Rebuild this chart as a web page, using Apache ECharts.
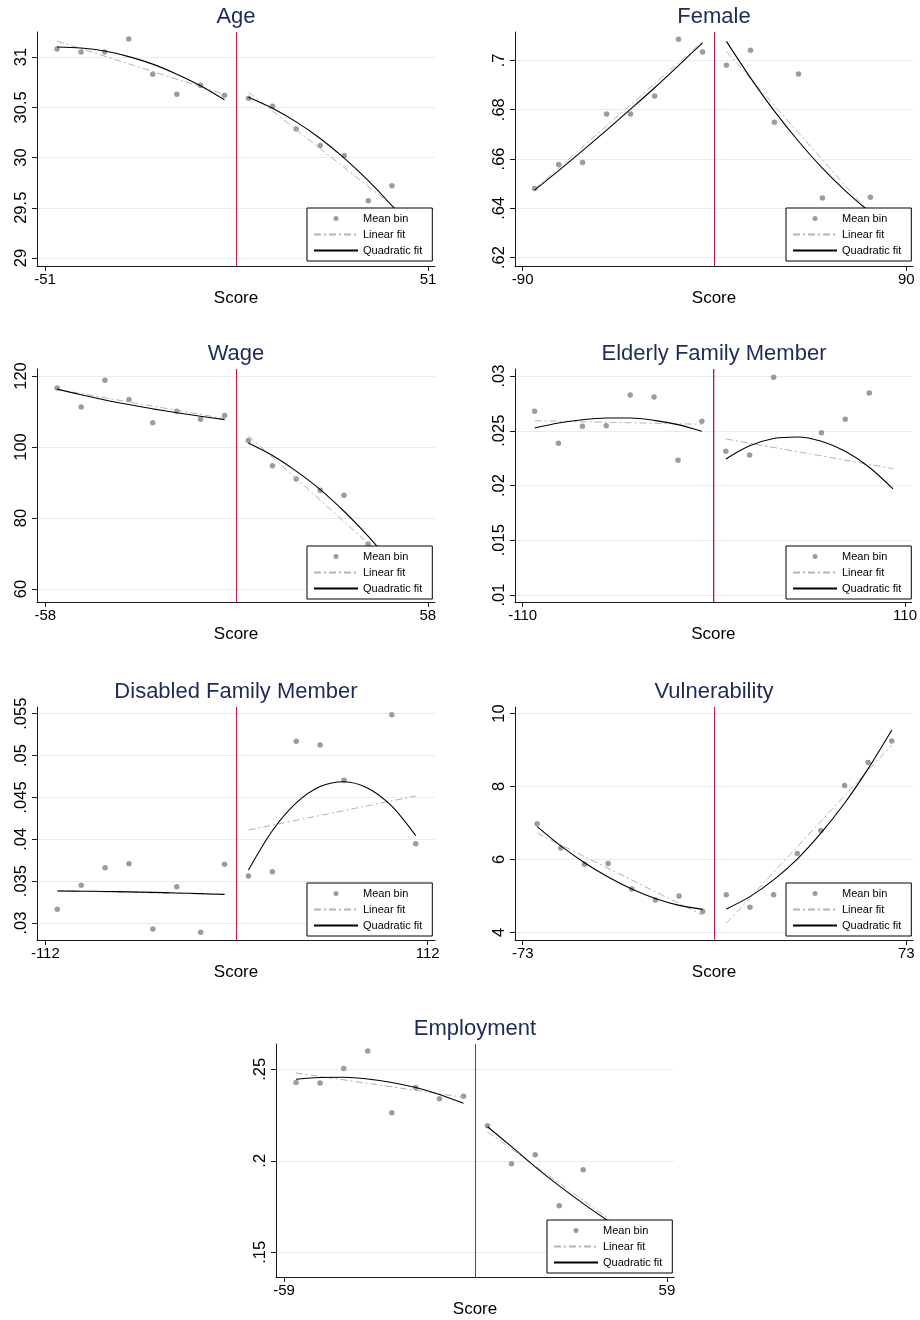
<!DOCTYPE html>
<html>
<head>
<meta charset="utf-8">
<script src="https://cdn.jsdelivr.net/npm/echarts@6/dist/echarts.min.js"></script>
<style>
html, body { margin: 0; padding: 0; background: #fff; }
#chart { width: 920px; height: 1320px; }
</style>
</head>
<body>
<div id="chart"></div>
<script>
// --- data: 8 bins each side of the cutoff (score = 0) ---
// null = bin hidden behind the legend box

// Age
var ageBins = [-47.8, -41.4, -35.1, -28.7, -22.3, -15.9, -9.6, -3.2, 3.2, 9.6, 15.9, 22.3, 28.7, 35.1, 41.4, 47.8];
var ageMean = [31.08, 31.05, 31.05, 31.18, 30.83, 30.63, 30.72, 30.62, 30.59, 30.51, 30.285, 30.12, 30.02, 29.57, 29.72, null];
var ageQuad = [31.10, 31.09, 31.06, 31.005, 30.93, 30.83, 30.715, 30.575, 30.60, 30.49, 30.355, 30.19, 29.995, 29.77, 29.52, 29.24];
var ageLin = [31.16, 30.63, 30.65, 29.34];

// Female
var femBins = [-84.4, -73.1, -61.9, -50.6, -39.4, -28.1, -16.9, -5.6, 5.6, 16.9, 28.1, 39.4, 50.6, 61.9, 73.1, 84.4];
var femMean = [0.648, 0.6578, 0.6586, 0.6782, 0.6782, 0.6855, 0.7086, 0.7034, 0.698, 0.7041, 0.6749, 0.6945, 0.6442, null, 0.6445, null];
var femQuad = [0.6474, 0.6553, 0.6634, 0.6717, 0.6802, 0.6889, 0.6979, 0.7071, 0.7077, 0.6929, 0.6794, 0.6672, 0.6563, 0.6467, 0.6384, 0.6313];
var femLin = [0.6478, 0.7076, 0.7036, 0.6267];

// Wage
var wageBins = [-54.4, -47.1, -39.9, -32.6, -25.4, -18.1, -10.9, -3.6, 3.6, 10.9, 18.1, 25.4, 32.6, 39.9, 47.1, 54.4];
var wageMean = [116.6, 111.3, 118.8, 113.4, 106.8, 110.1, 107.8, 108.9, 101.8, 94.7, 91.0, 87.8, 86.4, 72.7, null, null];
var wageQuad = [116.3, 114.7, 113.25, 111.95, 110.75, 109.65, 108.65, 107.7, 101.1, 97.6, 93.2, 88.0, 81.9, 74.9, 67.1, 58.4];
var wageLin = [116.2, 108.0, 103.2, 60.8];

// Elderly family member
var eldBins = [-103.1, -89.4, -75.6, -61.9, -48.1, -34.4, -20.6, -6.9, 6.9, 20.6, 34.4, 48.1, 61.9, 75.6, 89.4, 103.1];
var eldMean = [0.02677, 0.02385, 0.0254, 0.02546, 0.02826, 0.02808, 0.0223, 0.02586, 0.02312, 0.02279, 0.02988, null, 0.02482, 0.02604, 0.02845, null];
var eldQuad = [0.02525, 0.02571, 0.02601, 0.02616, 0.02616, 0.02595, 0.02556, 0.02495, 0.02242, 0.02362, 0.02429, 0.02443, 0.02404, 0.02312, 0.02167, 0.01969];
var eldLin = [0.02592, 0.02559, 0.02425, 0.02154];

// Disabled family member
var disBins = [-105, -91, -77, -63, -49, -35, -21, -7, 7, 21, 35, 49, 63, 77, 91, 105];
var disMean = [0.03163, 0.0345, 0.03661, 0.03709, 0.02928, 0.03434, 0.02889, 0.03701, 0.03561, 0.03613, 0.0517, 0.05126, 0.04704, null, 0.05488, 0.03947];
var disQuad = [0.03382, 0.0338, 0.03377, 0.03372, 0.03366, 0.03359, 0.03351, 0.03342, 0.03633, 0.04102, 0.04434, 0.04629, 0.04688, 0.0461, 0.04395, 0.04043];
var disLin = [0.03385, 0.0334, 0.04111, 0.04517];

// Vulnerability
var vulBins = [-67.5, -58.5, -49.5, -40.5, -31.5, -22.5, -13.5, -4.5, 4.5, 13.5, 22.5, 31.5, 40.5, 49.5, 58.5, 67.5];
var vulMean = [6.98, 6.31, 5.87, 5.89, 5.19, 4.89, 5.0, 4.57, 5.03, 4.69, 5.03, 6.16, 6.79, 8.03, 8.66, 9.25];
var vulQuad = [6.9, 6.37, 5.91, 5.52, 5.19, 4.93, 4.74, 4.63, 4.64, 4.98, 5.44, 6.01, 6.72, 7.54, 8.49, 9.55];
var vulLin = [6.72, 4.47, 4.25, 9.14];

// Employment
var empBins = [-55.3, -47.9, -40.6, -33.2, -25.8, -18.4, -11.1, -3.7, 3.7, 11.1, 18.4, 25.8, 33.2, 40.6, 47.9, 55.3];
var empMean = [0.2427, 0.2425, 0.2504, 0.26, 0.2263, 0.2401, 0.2339, 0.2352, 0.2192, 0.1984, 0.2033, 0.1754, 0.1951, null, null, null];
var empQuad = [0.2445, 0.2455, 0.2456, 0.2447, 0.2428, 0.24, 0.2362, 0.2314, 0.2186, 0.2077, 0.1967, 0.1863, 0.1766, 0.1675, 0.159, 0.1511];
var empLin = [0.248, 0.2347, 0.2159, 0.1502];

// axis ticks
var ageYTicks = [29, 29.5, 30, 30.5, 31];
var femYTicks = [0.62, 0.64, 0.66, 0.68, 0.7];
var wageYTicks = [60, 80, 100, 120];
var eldYTicks = [0.01, 0.015, 0.02, 0.025, 0.03];
var disYTicks = [0.03, 0.035, 0.04, 0.045, 0.05, 0.055];
var vulYTicks = [4, 6, 8, 10];
var empYTicks = [0.15, 0.2, 0.25];

var cutoff = 0;

var panels = [
    { title: 'Age', bins: ageBins, mean: ageMean, quad: ageQuad, lin: ageLin, xt: [-51, 51], yt: ageYTicks,
      xr: [-53.13, 52.87], yr: [28.92, 31.25], grid: [37, 32], leg: [307, 208], ttop: 6 },
    { title: 'Female', bins: femBins, mean: femMean, quad: femQuad, lin: femLin, xt: [-90, 90], yt: femYTicks,
      xr: [-93.585, 93.115], yr: [0.6166, 0.7115], grid: [515, 32], leg: [786, 208], ttop: 6 },
    { title: 'Wage', bins: wageBins, mean: wageMean, quad: wageQuad, lin: wageLin, xt: [-58, 58], yt: wageYTicks,
      xr: [-60.502, 60.198], yr: [56.34, 121.97], grid: [37, 369], leg: [307, 546], ttop: 343 },
    { title: 'Elderly Family Member', bins: eldBins, mean: eldMean, quad: eldQuad, lin: eldLin, xt: [-110, 110], yt: eldYTicks,
      xr: [-114.388, 113.812], yr: [0.00936, 0.03064], grid: [515, 369], leg: [786, 546], ttop: 343 },
    { title: 'Disabled Family Member', bins: disBins, mean: disMean, quad: disQuad, lin: disLin, xt: [-112, 112], yt: disYTicks,
      xr: [-116.894, 116.306], yr: [0.02797, 0.0558], grid: [37, 707], leg: [307, 883], ttop: 681 },
    { title: 'Vulnerability', bins: vulBins, mean: vulMean, quad: vulQuad, lin: vulLin, xt: [-73, 73], yt: vulYTicks,
      xr: [-75.941, 75.559], yr: [3.79, 10.18], grid: [515, 707], leg: [786, 883], ttop: 681 },
    { title: 'Employment', bins: empBins, mean: empMean, quad: empQuad, lin: empLin, xt: [-59, 59], yt: empYTicks,
      xr: [-61.48, 61.17], yr: [0.1365, 0.2638], grid: [276, 1044], leg: [547, 1220], ttop: 1018 }
];

var FONT = '"Liberation Sans", Arial, Helvetica, sans-serif';
var axisColor = '#1a1a1a';
var cutoffColor = '#c8163f';

function stataNum(v) {
    // Stata drops the leading zero: 0.025 -> .025
    return String(v).replace(/^0\./, '.').replace(/^-0\./, '-.');
}

var option = {
    animation: false,
    backgroundColor: '#fff',
    textStyle: { fontFamily: FONT },
    title: [], grid: [], xAxis: [], yAxis: [], legend: [], series: []
};

panels.forEach(function (p, i) {
    var gw = 398;
    option.grid.push({ left: p.grid[0], top: p.grid[1], width: gw, height: i < 2 ? 234 : 233 });
    option.title.push({
        text: p.title, left: p.grid[0] + gw / 2, top: p.ttop, textAlign: 'center', padding: 0,
        textStyle: { fontSize: 22, fontWeight: 'normal', color: '#1c2b5a', fontFamily: FONT }
    });
    option.xAxis.push({
        gridIndex: i, type: 'value', min: p.xr[0], max: p.xr[1],
        name: 'Score', nameLocation: 'middle', nameGap: 24,
        nameTextStyle: { fontSize: 17, color: '#000', fontFamily: FONT },
        axisLine: { show: true, onZero: false, lineStyle: { color: axisColor, width: 1 } },
        axisTick: { show: true, length: 5, customValues: p.xt, lineStyle: { color: axisColor } },
        axisLabel: { customValues: p.xt, fontSize: 15, color: '#000', margin: 6, fontFamily: FONT },
        splitLine: { show: false }
    });
    option.yAxis.push({
        gridIndex: i, type: 'value', min: p.yr[0], max: p.yr[1],
        axisLine: { show: true, onZero: false, lineStyle: { color: axisColor, width: 1 } },
        axisTick: { show: true, length: 5, customValues: p.yt, lineStyle: { color: axisColor } },
        axisLabel: { customValues: p.yt, rotate: 90, fontSize: 16.5, color: '#000', margin: 7,
                     fontFamily: FONT, formatter: stataNum },
        splitLine: { show: true, lineStyle: { color: '#e4edef', width: 1 } }
    });
    option.legend.push({
        orient: 'vertical', left: p.leg[0], top: p.leg[1], z: 20,
        padding: [5, 10, 5, 6], itemGap: 5, itemWidth: 44, itemHeight: 5,
        backgroundColor: '#fff', borderColor: '#000', borderWidth: 1, borderRadius: 0,
        selectedMode: false,
        textStyle: { fontSize: 11, color: '#000', fontFamily: FONT },
        data: [
            { name: 'Mean bin', icon: 'circle' },
            { name: 'Linear fit', itemStyle: { opacity: 0 } },
            { name: 'Quadratic fit', itemStyle: { opacity: 0 } }
        ]
    });

    // vertical cutoff line at score 0, spanning the y range of the panel
    option.series.push({
        name: 'Cutoff', type: 'line', xAxisIndex: i, yAxisIndex: i, symbol: 'none', z: 1,
        data: [[cutoff, p.yr[0]], [cutoff, p.yr[1]]],
        lineStyle: { color: cutoffColor, width: 1 }, itemStyle: { color: cutoffColor },
        silent: true
    });

    var pts = [];
    p.bins.forEach(function (x, k) {
        if (p.mean[k] != null) pts.push([x, p.mean[k]]);
    });
    option.series.push({
        name: 'Mean bin', type: 'scatter', xAxisIndex: i, yAxisIndex: i,
        data: pts, symbolSize: 5.5, itemStyle: { color: '#838383' }, z: 2
    });
    // linear fit: one straight segment per side
    [[0, 7], [8, 15]].forEach(function (s, j) {
        option.series.push({
            name: 'Linear fit', type: 'line', xAxisIndex: i, yAxisIndex: i, symbol: 'none', z: 3,
            data: [[p.bins[s[0]], p.lin[j * 2]], [p.bins[s[1]], p.lin[j * 2 + 1]]],
            lineStyle: { color: '#b3b3b3', width: 1, type: [7, 3, 2, 3] },
            itemStyle: { color: '#b3b3b3' }
        });
    });
    // quadratic fit per side
    [[0, 8], [8, 16]].forEach(function (s) {
        var d = [];
        for (var k = s[0]; k < s[1]; k++) d.push([p.bins[k], p.quad[k]]);
        option.series.push({
            name: 'Quadratic fit', type: 'line', xAxisIndex: i, yAxisIndex: i, symbol: 'none', z: 4,
            smooth: 0.3, data: d,
            lineStyle: { color: '#000', width: 1.1 },
            itemStyle: { color: '#000' }
        });
    });
});

var chart = echarts.init(document.getElementById('chart'), null, { renderer: 'canvas' });
chart.setOption(option);

// redraw the cutoff on top of everything, placed through each panel's own axes
var cutoffLines = panels.map(function (p, i) {
    var x = chart.convertToPixel({ xAxisIndex: i }, cutoff);
    var yTop = chart.convertToPixel({ yAxisIndex: i }, p.yr[1]);
    var yBot = chart.convertToPixel({ yAxisIndex: i }, p.yr[0]);
    x = Math.round(x - 0.5) + 0.5;
    return {
        type: 'line', z: 100, silent: true,
        shape: { x1: x, y1: yTop, x2: x, y2: yBot },
        style: { stroke: cutoffColor, lineWidth: 1 }
    };
});
chart.setOption({ graphic: cutoffLines });
</script>
</body>
</html>
